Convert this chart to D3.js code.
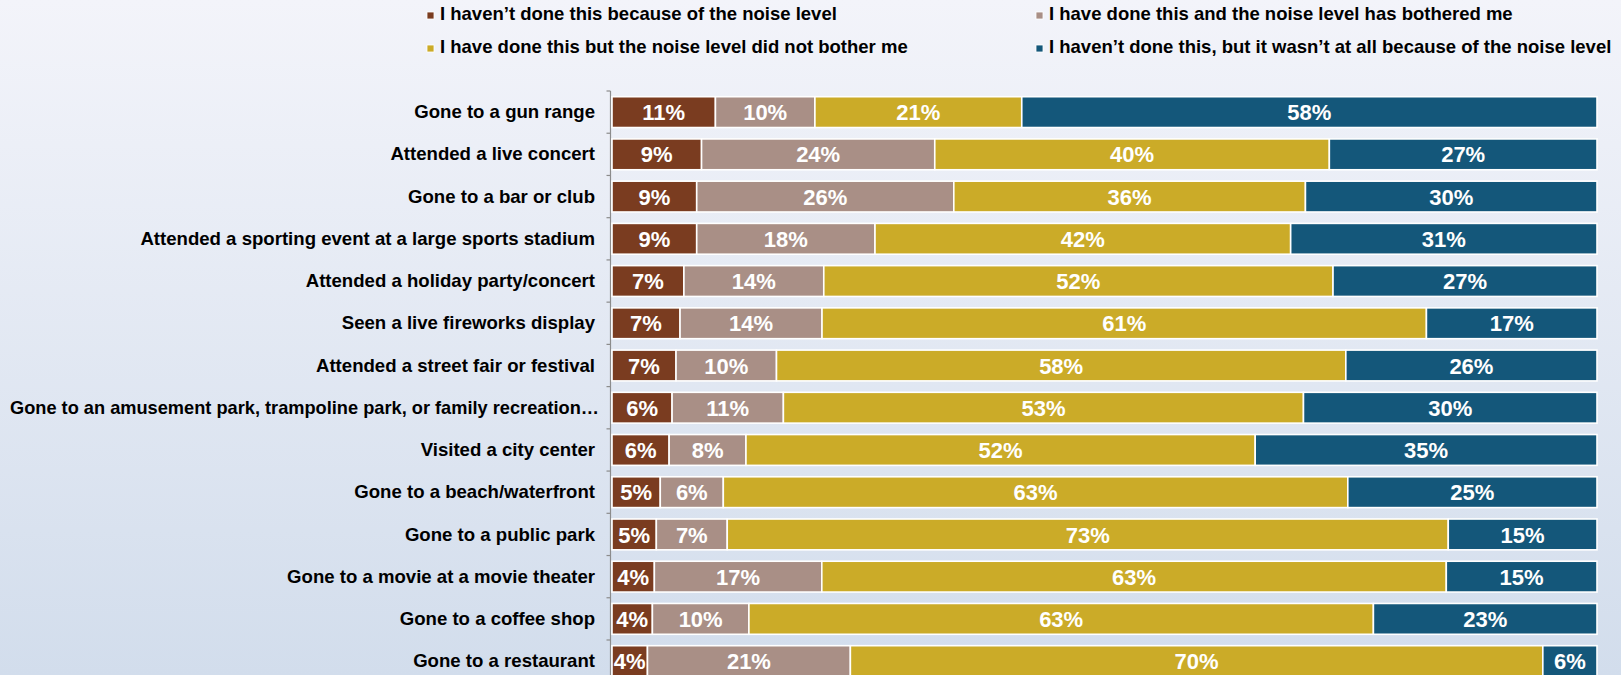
<!DOCTYPE html>
<html>
<head>
<meta charset="utf-8">
<script src="https://cdn.jsdelivr.net/npm/d3@7"></script>
<style>
  html, body { margin: 0; padding: 0; overflow: hidden; }
  svg { display: block; font-family: "Liberation Sans", Arial, sans-serif; }
</style>
</head>
<body>
<svg id="chart" width="1621" height="675"></svg>
<script>
const categories = [
  "Gone to a gun range",
  "Attended a live concert",
  "Gone to a bar or club",
  "Attended a sporting event at a large sports stadium",
  "Attended a holiday party/concert",
  "Seen a live fireworks display",
  "Attended a street fair or festival",
  "Gone to an amusement park, trampoline park, or family recreation…",
  "Visited a city center",
  "Gone to a beach/waterfront",
  "Gone to a public park",
  "Gone to a movie at a movie theater",
  "Gone to a coffee shop",
  "Gone to a restaurant"
];
const seriesNames = [
  "I haven’t done this because of the noise level",
  "I have done this and the noise level has bothered me",
  "I have done this but the noise level did not bother me",
  "I haven’t done this, but it wasn’t at all because of the noise level"
];
const notDueToNoise   = [10.5, 9.1, 8.6, 8.6, 7.3, 6.9, 6.5, 6.1, 5.8, 4.9, 4.5, 4.3, 4.1, 3.6];
const doneBothered    = [10.1, 23.7, 26.1, 18.1, 14.2, 14.4, 10.2, 11.3, 7.8, 6.4, 7.2, 17.0, 9.8, 20.6];
const doneNotBothered = [21.0, 40.1, 35.7, 42.2, 51.7, 61.3, 57.8, 52.8, 51.7, 63.4, 73.2, 63.4, 63.4, 70.3];
const notDoneOther    = [58.4, 27.2, 29.6, 31.1, 26.8, 17.3, 25.5, 29.8, 34.7, 25.3, 15.1, 15.3, 22.7, 5.5];
const colors = ["#7a3c20", "#a98f86", "#cbab28", "#14577a"];

const svg = d3.select("#chart");
const W = 1621, H = 675;

// background gradient
const defs = svg.append("defs");
const grad = defs.append("linearGradient").attr("id", "bg").attr("x1", 0).attr("y1", 0).attr("x2", 0).attr("y2", 1);
grad.append("stop").attr("offset", "0%").attr("stop-color", "#f3f4fa");
grad.append("stop").attr("offset", "100%").attr("stop-color", "#d2ddec");
svg.append("rect").attr("width", W).attr("height", H).attr("fill", "url(#bg)");

const keys = ["a", "b", "c", "d"];
const rows = categories.map((c, i) => ({
  cat: c,
  a: notDueToNoise[i], b: doneBothered[i], c: doneNotBothered[i], d: notDoneOther[i]
}));
const stack = d3.stack().keys(keys).offset(d3.stackOffsetExpand);
const stacked = stack(rows);

const x = d3.scaleLinear().domain([0, 1]).range([612, 1597]);
const step = 42.23;
const y = d3.scaleBand().domain(categories)
  .range([91, 91 + step * categories.length])
  .paddingInner(0.27).paddingOuter(0.135);

// axis
const axisX = 610.5;
const g = svg.append("g");
g.append("line").attr("x1", axisX).attr("x2", axisX)
  .attr("y1", y.range()[0]).attr("y2", H)
  .attr("stroke", "#8c8c8c").attr("stroke-width", 1.2);
const boundaries = categories.map(d => y(d) - y.step() * y.paddingInner() / 2);
g.selectAll("line.tick").data(boundaries).join("line").attr("class", "tick")
  .attr("x1", axisX - 4).attr("x2", axisX)
  .attr("y1", d => d).attr("y2", d => d)
  .attr("stroke", "#8c8c8c").attr("stroke-width", 1.2);

// category labels
const catLabels = svg.append("g").selectAll("text").data(categories).join("text")
  .attr("x", 595)
  .attr("y", d => y(d) + y.bandwidth() / 2)
  .attr("dy", "0.33em")
  .attr("text-anchor", "end")
  .attr("font-size", "18.6px")
  .attr("font-weight", "bold")
  .attr("fill", "#000")
  .text(d => d);
// labels too long to fit: squeeze into the space the reference uses
catLabels.each(function () {
  const len = this.getComputedTextLength();
  if (595 - len < 10) {
    d3.select(this).attr("x", 599)
      .attr("textLength", 589).attr("lengthAdjust", "spacingAndGlyphs");
  }
});

// bars
const layers = svg.append("g").selectAll("g").data(stacked).join("g")
  .attr("fill", (d, i) => colors[i]);
layers.selectAll("rect").data(d => d).join("rect")
  .attr("x", d => x(d[0]))
  .attr("y", d => y(d.data.cat))
  .attr("width", d => x(d[1]) - x(d[0]))
  .attr("height", y.bandwidth())
  .attr("stroke", "#ffffff")
  .attr("stroke-width", 1.6);

// value labels
const labels = svg.append("g").selectAll("g").data(stacked).join("g");
labels.selectAll("text").data(d => d.map(v => ({ v, key: d.key }))).join("text")
  .attr("x", d => (x(d.v[0]) + x(d.v[1])) / 2)
  .attr("y", d => y(d.v.data.cat) + y.bandwidth() / 2)
  .attr("dy", "0.37em")
  .attr("text-anchor", "middle")
  .attr("font-size", "22px")
  .attr("font-weight", "bold")
  .attr("fill", "#ffffff")
  .text(d => Math.round(d.v.data[d.key]) + "%");

// legend
const legendPos = [
  { x: 427, y: 20 }, { x: 1036, y: 20 },
  { x: 427, y: 53 }, { x: 1036, y: 53 }
];
const leg = svg.append("g").selectAll("g").data(seriesNames).join("g")
  .attr("transform", (d, i) => `translate(${legendPos[i].x},${legendPos[i].y})`);
leg.append("rect").attr("x", 0).attr("y", -8).attr("width", 7).attr("height", 7)
  .attr("fill", (d, i) => colors[i]).attr("stroke", "#ffffff").attr("stroke-width", 0.8);
leg.append("text").attr("x", 13).attr("y", 0)
  .attr("font-size", "18.5px").attr("font-weight", "bold").attr("fill", "#000")
  .text(d => d);
</script>
</body>
</html>
